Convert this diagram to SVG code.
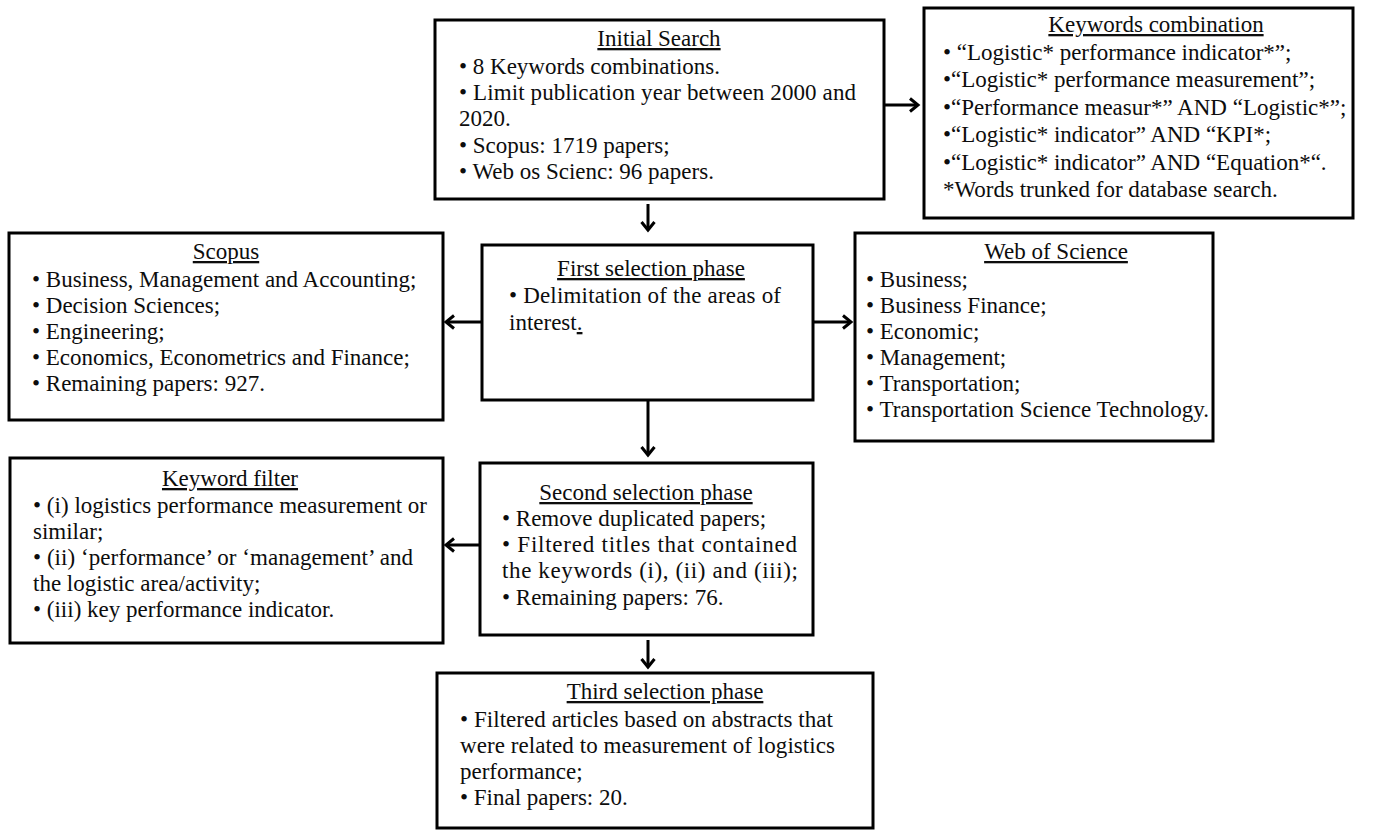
<svg xmlns="http://www.w3.org/2000/svg" width="1379" height="830" viewBox="0 0 1379 830">
<style>
.box{fill:#fff;stroke:#000;stroke-width:3}
.c{stroke:#000;stroke-width:3;fill:none}
.t{text-anchor:middle;text-decoration:underline}
</style>
<defs>
<marker id="ah" markerUnits="userSpaceOnUse" markerWidth="14" markerHeight="16" refX="10" refY="8" orient="auto">
<path d="M2,1.5 L10,8 L2,14.5" fill="none" stroke="#000" stroke-width="3"/>
</marker>
</defs>
<rect width="1379" height="830" fill="#fff"/>
<g id="connectors">
<line class="c" x1="885" y1="105" x2="918" y2="105" marker-end="url(#ah)"/>
<line class="c" x1="648" y1="204" x2="648" y2="230" marker-end="url(#ah)"/>
<line class="c" x1="482" y1="322" x2="446" y2="322" marker-end="url(#ah)"/>
<line class="c" x1="813" y1="322" x2="851" y2="322" marker-end="url(#ah)"/>
<line class="c" x1="648" y1="400" x2="648" y2="455" marker-end="url(#ah)"/>
<line class="c" x1="481" y1="545" x2="446" y2="545" marker-end="url(#ah)"/>
<line class="c" x1="648" y1="640" x2="648" y2="667" marker-end="url(#ah)"/>
</g>
<g font-family="Liberation Serif, Tinos, Times New Roman, Noto Serif, DejaVu Serif, serif" font-size="23" fill="#0d0d0d">
<g id="initial-search">
<rect class="box" x="435" y="20" width="449" height="179"/>
<text class="t" x="659" y="46">Initial Search</text>
<text x="459" y="74">• 8 Keywords combinations.</text>
<text x="459" y="100" textLength="397" lengthAdjust="spacing">• Limit publication year between 2000 and</text>
<text x="459" y="126">2020.</text>
<text x="459" y="153">• Scopus: 1719 papers;</text>
<text x="459" y="179">• Web os Scienc: 96 papers.</text>
</g>
<g id="keywords-combination">
<rect class="box" x="924" y="8" width="429" height="210"/>
<text class="t" x="1156" y="32">Keywords combination</text>
<text x="943" y="59.5">• “Logistic*  performance indicator*”;</text>
<text x="943" y="87">•“Logistic*  performance measurement”;</text>
<text x="943" y="114.5">•“Performance measur*” AND “Logistic*”;</text>
<text x="943" y="142">•“Logistic*  indicator” AND “KPI*;</text>
<text x="943" y="169.5">•“Logistic*  indicator” AND “Equation*“.</text>
<text x="943" y="197">*Words trunked  for database search.</text>
</g>
<g id="scopus">
<rect class="box" x="9" y="233" width="434" height="187"/>
<text class="t" x="226" y="259">Scopus</text>
<text x="32" y="287">• Business, Management  and Accounting;</text>
<text x="32" y="313">• Decision Sciences;</text>
<text x="32" y="339">• Engineering;</text>
<text x="32" y="365">• Economics, Econometrics and  Finance;</text>
<text x="32" y="391">• Remaining  papers: 927.</text>
</g>
<g id="first-selection">
<rect class="box" x="482" y="245" width="331" height="155"/>
<text class="t" x="651" y="276">First selection phase</text>
<text x="509" y="303" textLength="272" lengthAdjust="spacing">• Delimitation of the areas of</text>
<text x="509" y="330">interest<tspan text-decoration="underline">.</tspan></text>
</g>
<g id="web-of-science">
<rect class="box" x="855" y="233" width="358" height="208"/>
<text class="t" x="1056" y="259">Web  of Science</text>
<text x="866" y="287">• Business;</text>
<text x="866" y="313">• Business Finance;</text>
<text x="866" y="339">• Economic;</text>
<text x="866" y="365">• Management;</text>
<text x="866" y="391">• Transportation;</text>
<text x="866" y="417">• Transportation Science Technology.</text>
</g>
<g id="keyword-filter">
<rect class="box" x="10" y="458" width="433" height="185"/>
<text class="t" x="230" y="486">Keyword filter</text>
<text x="33" y="513" textLength="394" lengthAdjust="spacing">• (i) logistics performance measurement or</text>
<text x="33" y="539">similar;</text>
<text x="33" y="565" textLength="380" lengthAdjust="spacing">• (ii) ‘performance’ or ‘management’ and</text>
<text x="33" y="591">the logistic area/activity;</text>
<text x="33" y="617">• (iii) key performance indicator.</text>
</g>
<g id="second-selection">
<rect class="box" x="480" y="463" width="333" height="172"/>
<text class="t" x="646" y="500">Second selection phase</text>
<text x="502" y="526">• Remove duplicated papers;</text>
<text x="502" y="552" textLength="295" lengthAdjust="spacing">•  Filtered titles that contained</text>
<text x="502" y="578" textLength="296" lengthAdjust="spacing">the keywords  (i), (ii) and (iii);</text>
<text x="502" y="605">• Remaining  papers: 76.</text>
</g>
<g id="third-selection">
<rect class="box" x="437" y="673" width="436" height="155"/>
<text class="t" x="665" y="699">Third selection phase</text>
<text x="460" y="727" textLength="373" lengthAdjust="spacing">• Filtered articles based on abstracts that</text>
<text x="460" y="753" textLength="375" lengthAdjust="spacing">were related to measurement  of logistics</text>
<text x="460" y="779">performance;</text>
<text x="460" y="805">• Final papers: 20.</text>
</g>
</g>
</svg>
